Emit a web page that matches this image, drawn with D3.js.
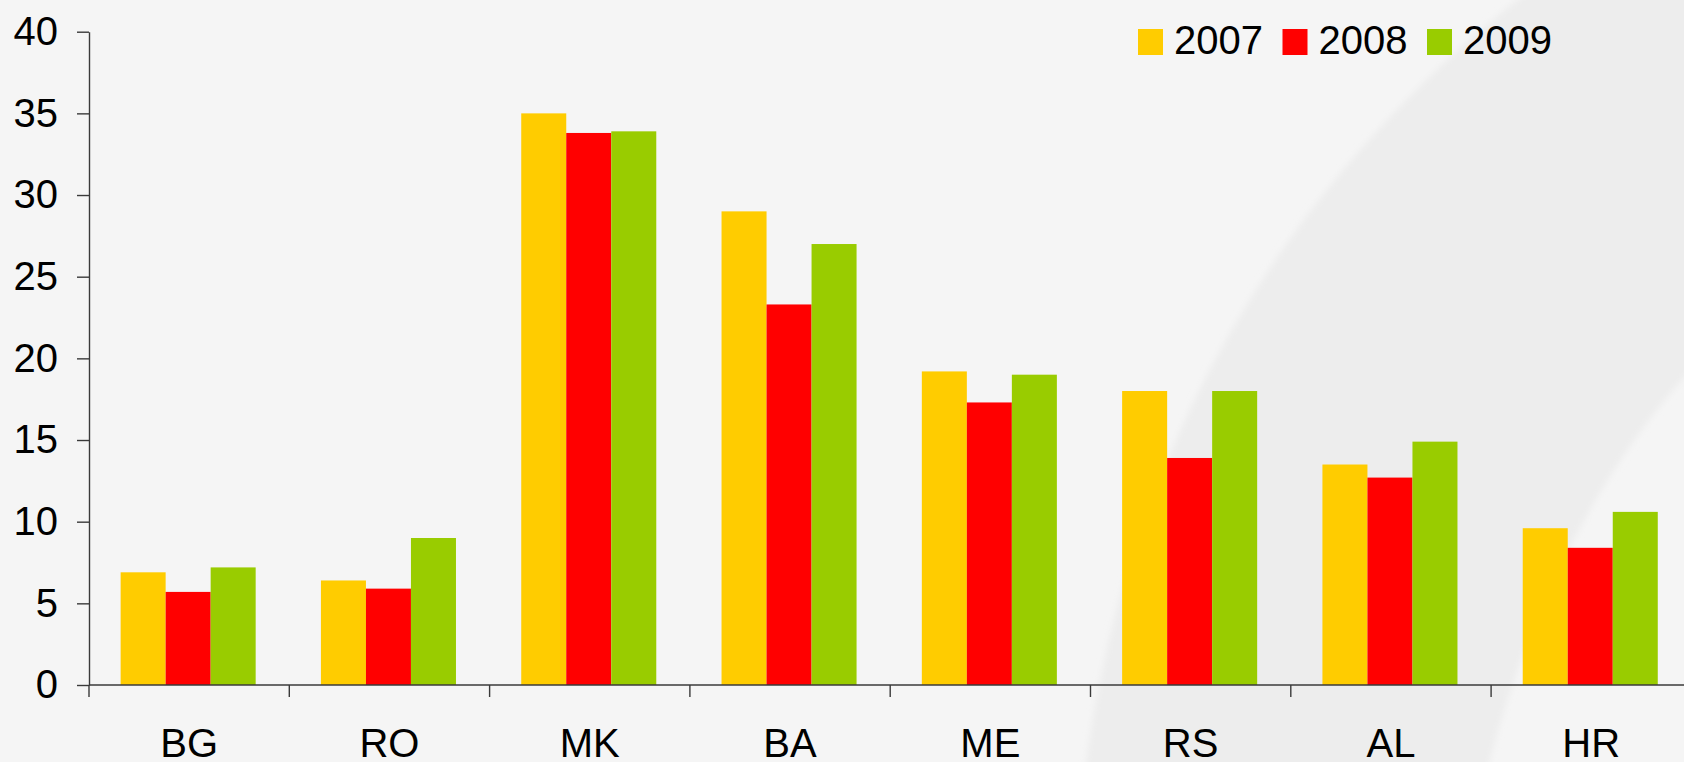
<!DOCTYPE html>
<html>
<head>
  <meta charset="utf-8">
  <title>Bar chart 2007-2009</title>
  <script src="https://cdn.jsdelivr.net/npm/d3@7/dist/d3.min.js"></script>
  <style>
    body { margin: 0; background: #f5f5f5; }
    svg { display: block; font-family: "Liberation Sans", Arial, sans-serif; }
    .axis path, .axis line { stroke: #3a3a3a; stroke-width: 1.4px; }
    .axis text { fill: #000; font-size: 40px; }
    .clabel { font-size: 43px; }
  </style>
</head>
<body>
  <svg id="chart" width="1684" height="762"></svg>

  <script>
    // data
    var categories = ['BG', 'RO', 'MK', 'BA', 'ME', 'RS', 'AL', 'HR'];
    var years = ['2007', '2008', '2009'];
    var v2007 = [6.9, 6.4, 35.0, 29.0, 19.2, 18.0, 13.5, 9.6];
    var v2008 = [5.7, 5.9, 33.8, 23.3, 17.3, 13.9, 12.7, 8.4];
    var v2009 = [7.2, 9.0, 33.9, 27.0, 19.0, 18.0, 14.9, 10.6];
    var yTicks = [0, 5, 10, 15, 20, 25, 30, 35, 40];
    var colors = ['#ffcc00', '#ff0000', '#99cc00'];

    var series = [v2007, v2008, v2009];

    var svg = d3.select('#chart'),
      width = +svg.attr('width'),
      height = +svg.attr('height');

    // background with the soft swoosh on the right
    svg.append('rect')
      .attr('width', width)
      .attr('height', height)
      .attr('fill', '#f5f5f5');

    var defs = svg.append('defs');
    defs.append('filter').attr('id', 'soft')
      .append('feGaussianBlur').attr('stdDeviation', 3);

    svg.append('path')
      .attr('fill', '#ededed')
      .attr('filter', 'url(#soft)')
      .attr('d', 'M1530,-10 C1310,160 1130,420 1085,772 L1487,772 C1525,620 1595,470 1700,360 L1700,-10 Z');

    var plotLeft = 89, plotBottom = 685, plotTop = 31.7, step = 200.3;

    var x0 = d3.scaleBand()
      .domain(categories)
      .range([plotLeft, plotLeft + step * categories.length])
      .padding(0);

    var x1 = d3.scaleBand()
      .domain(years)
      .range([0, x0.bandwidth()])
      .paddingInner(0)
      .paddingOuter(0.725);

    var y = d3.scaleLinear()
      .domain([0, 40])
      .range([plotBottom, plotTop]);

    // bars, one group per category
    var groups = svg.selectAll('.group')
      .data(categories)
      .enter()
      .append('g')
      .attr('class', 'group')
      .attr('transform', d => 'translate(' + (x0(d) - 1) + ',0)');

    groups.selectAll('rect')
      .data((c, i) => years.map((yr, k) => ({ year: yr, value: series[k][i], k: k })))
      .enter()
      .append('rect')
      .attr('x', d => x1(d.year))
      .attr('width', x1.bandwidth())
      .attr('y', d => y(d.value))
      .attr('height', d => y(0) - y(d.value))
      .attr('fill', d => colors[d.k]);

    // y axis
    svg.append('g')
      .attr('class', 'axis')
      .attr('transform', 'translate(' + plotLeft + ',0)')
      .call(d3.axisLeft(y).tickValues(yTicks).tickSize(12).tickSizeOuter(0).tickPadding(19))
      .call(g => g.selectAll('text').attr('dy', '0.32em').attr('font-size', '42px'));

    // x axis line across the full width
    var xAxis = svg.append('g').attr('class', 'axis');
    xAxis.append('line')
      .attr('x1', plotLeft).attr('x2', width)
      .attr('y1', plotBottom).attr('y2', plotBottom);

    // category boundary ticks
    xAxis.selectAll('.ctick')
      .data(categories)
      .enter()
      .append('line')
      .attr('class', 'ctick')
      .attr('x1', d => x0(d)).attr('x2', d => x0(d))
      .attr('y1', plotBottom).attr('y2', plotBottom + 12);

    // category labels
    xAxis.selectAll('.clabel')
      .data(categories)
      .enter()
      .append('text')
      .attr('class', 'clabel')
      .attr('x', d => x0(d) + x0.bandwidth() / 2)
      .attr('y', plotBottom + 72)
      .attr('text-anchor', 'middle')
      .text(d => d);

    // legend
    var legend = svg.append('g')
      .attr('transform', 'translate(1138,29)');

    var item = legend.selectAll('.item')
      .data(years)
      .enter()
      .append('g')
      .attr('class', 'item')
      .attr('transform', (d, i) => 'translate(' + i * 144.5 + ',0)');

    item.append('rect')
      .attr('width', 25)
      .attr('height', 26)
      .attr('fill', (d, i) => colors[i]);

    item.append('text')
      .attr('x', 36)
      .attr('y', 25)
      .attr('font-size', '40px')
      .attr('fill', '#000')
      .text(d => d);
  </script>
</body>
</html>
